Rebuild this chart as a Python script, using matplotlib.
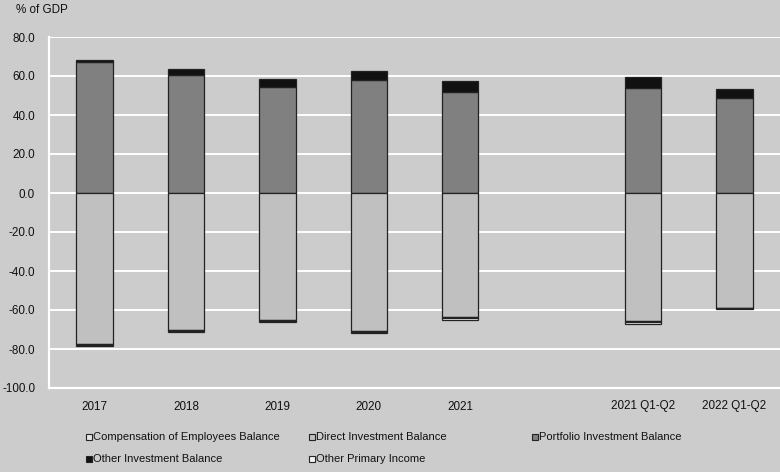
import matplotlib
matplotlib.use("Agg")
import matplotlib.pyplot as plt
from matplotlib.patches import Rectangle
import numpy as np

plt.rcParams['font.family'] = ['Liberation Sans', 'DejaVu Sans']

# Periods (one empty slot separates annual and half-year figures)
categories = ["2017", "2018", "2019", "2020", "2021", "", "2021 Q1-Q2", "2022 Q1-Q2"]

# Balances, % of GDP (None = no data in that slot)
portfolio_inv = [67.2, 60.5, 54.5, 57.9, 51.8, None, 54.0, 48.9]
other_inv     = [0.8, 2.9, 3.8, 4.5, 5.6, None, 5.6, 4.3]
direct_inv    = [-77.6, -70.3, -65.3, -70.9, -63.8, None, -65.8, -58.8]
compensation  = [-0.4, -0.5, -0.4, -0.4, -0.4, None, -0.4, -0.4]
other_primary = [-0.3, -0.3, -0.3, -0.3, -1.0, None, -0.8, -0.4]

y_ticks = [80, 60, 40, 20, 0, -20, -40, -60, -80, -100]

BG = '#cccccc'
EDGE = '#222222'
TXT = '#111111'

fig = plt.figure(figsize=(7.80, 4.72), dpi=100, facecolor=BG)
ax = fig.add_axes([49/780, (472-388)/472, 1 - 49/780, (388-37)/472])
ax.set_facecolor(BG)

def arr(v):
    return np.array([np.nan if x is None else x for x in v], dtype=float)

x = np.arange(len(categories))
w = 0.4

p = arr(portfolio_inv)
o = arr(other_inv)
d = arr(direct_inv)
c = arr(compensation)
op = arr(other_primary)

kw = dict(width=w, edgecolor=EDGE, linewidth=0.9, zorder=3)
ax.bar(x, p, color='#808080', **kw)
ax.bar(x, o, bottom=p, color='#111111', **kw)
ax.bar(x, d, color='#c0c0c0', **kw)
ax.bar(x, c, bottom=d, color='#e4e4e4', **kw)
ax.bar(x, op, bottom=d + c, color='#f4f4f4', **kw)

ax.set_xlim(-0.5, len(categories) - 0.5)
ax.set_ylim(-100, 80)
ax.set_yticks(y_ticks)
ax.set_yticklabels([f"{v:.1f}" for v in y_ticks])
ax.set_xticks(x)
ax.set_xticklabels(categories)

for v in y_ticks[:-1]:
    ax.axhline(v, color='white', linewidth=1.4, zorder=1)

for s in ['top', 'right']:
    ax.spines[s].set_visible(False)
for s in ['left', 'bottom']:
    ax.spines[s].set_color('white')
    ax.spines[s].set_linewidth(1.6)

ax.tick_params(axis='both', length=0, labelsize=8.4, colors=TXT)
ax.tick_params(axis='y', pad=10)
ax.tick_params(axis='x', pad=9)

fig.text(16/780, 1 - 10/472, "% of GDP", fontsize=8.4, color=TXT,
         ha='left', va='center')

# Legend drawn as a two-row, three-column grid
legend_items = [
    ("Compensation of Employees Balance", '#e4e4e4', 86, 437),
    ("Direct Investment Balance", '#c0c0c0', 309, 437),
    ("Portfolio Investment Balance", '#808080', 532, 437),
    ("Other Investment Balance", '#111111', 86, 459),
    ("Other Primary Income", '#f4f4f4', 309, 459),
]
for label, col, px, py in legend_items:
    sz = 6
    fig.patches.append(Rectangle((px/780, 1 - (py + sz/2)/472), sz/780, sz/472,
                                 transform=fig.transFigure, facecolor=col,
                                 edgecolor=EDGE, linewidth=0.8))
    fig.text((px + sz + 1)/780, 1 - py/472, label, fontsize=8,
             color=TXT, ha='left', va='center')

fig.savefig("out.png", dpi=100, facecolor=BG)
